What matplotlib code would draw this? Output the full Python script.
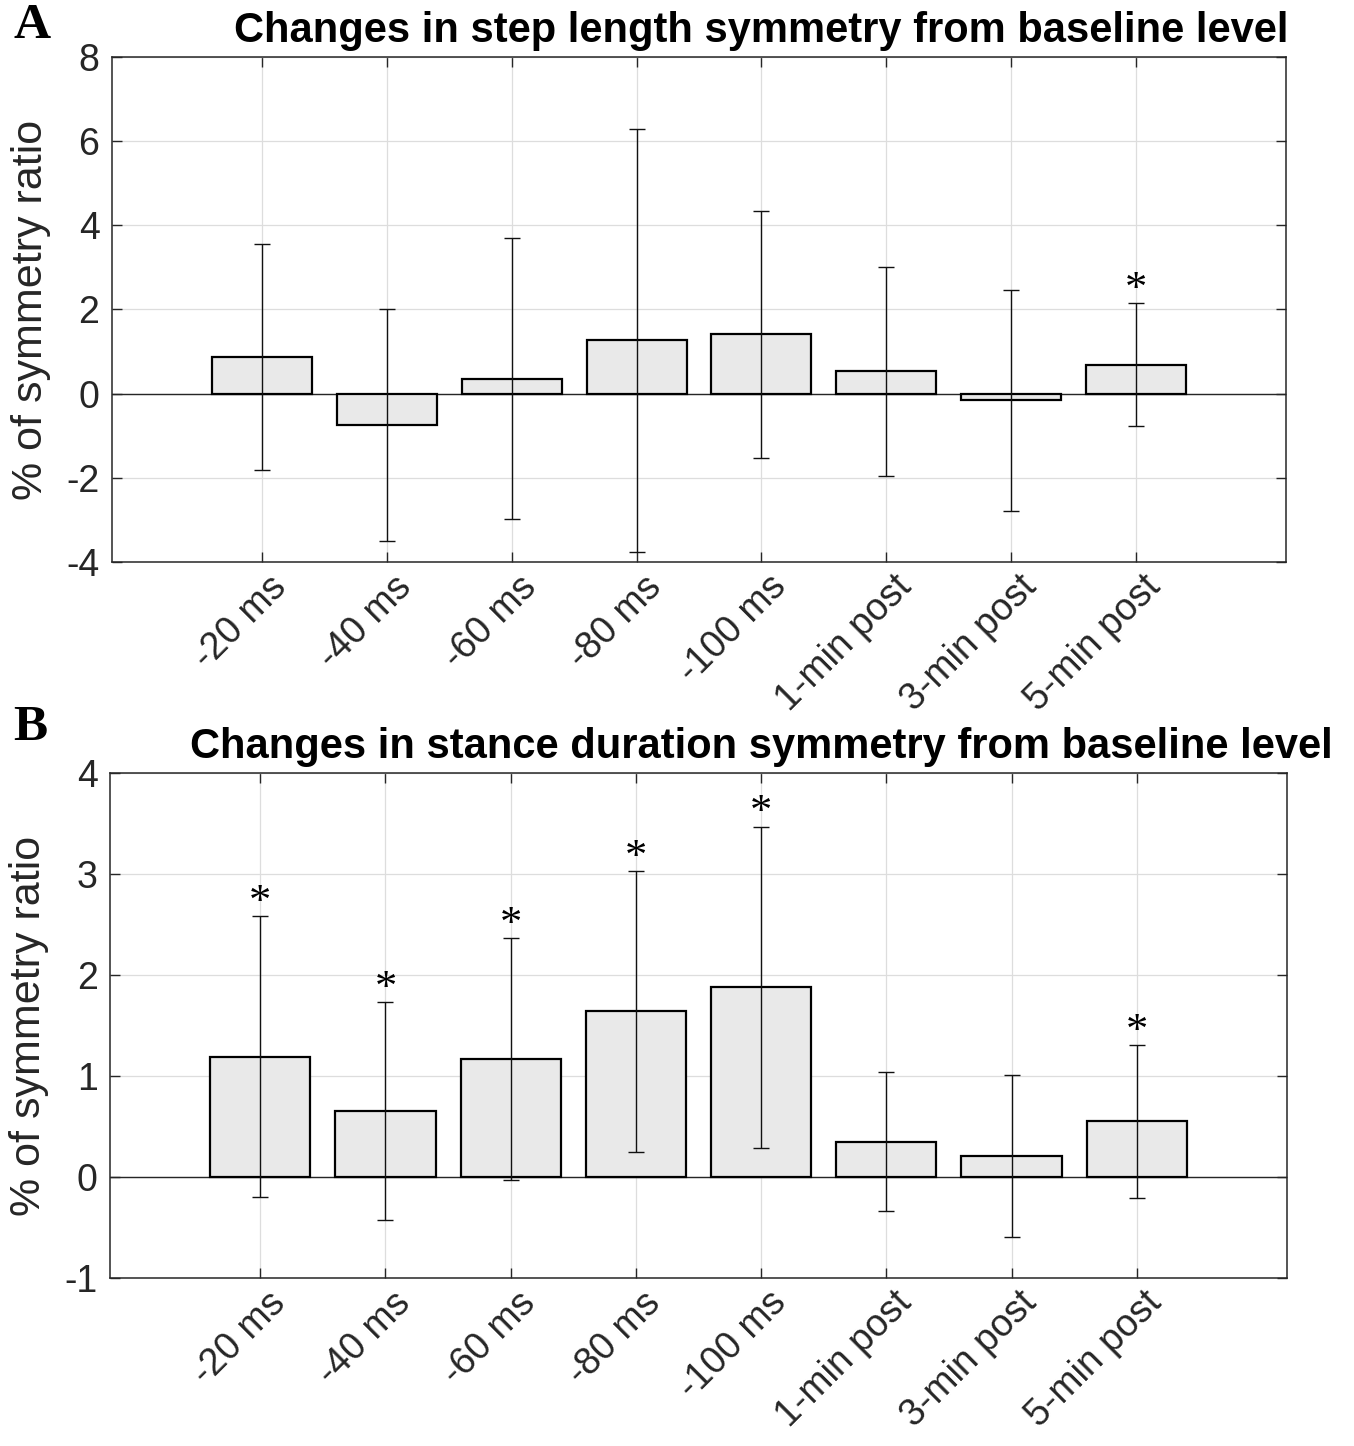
import matplotlib
matplotlib.use("Agg")
import matplotlib.pyplot as plt
import matplotlib.transforms as mtransforms
import numpy as np

# ---- data ----
categories = ['-20 ms', '-40 ms', '-60 ms', '-80 ms', '-100 ms',
              '1-min post', '3-min post', '5-min post']

step_mean = [0.87, -0.75, 0.36, 1.27, 1.41, 0.53, -0.16, 0.69]
step_sd = [2.69, 2.76, 3.34, 5.03, 2.93, 2.49, 2.62, 1.47]
step_sig = [False, False, False, False, False, False, False, True]

stance_mean = [1.19, 0.65, 1.17, 1.64, 1.88, 0.35, 0.21, 0.55]
stance_sd = [1.39, 1.08, 1.20, 1.39, 1.59, 0.69, 0.80, 0.76]
stance_sig = [True, True, True, True, True, False, False, True]

step_yticks = [-4, -2, 0, 2, 4, 6, 8]
stance_yticks = [-1, 0, 1, 2, 3, 4]

title_a = 'Changes in step length symmetry from baseline level'
title_b = 'Changes in stance duration symmetry from baseline level'
ylabel = '% of symmetry ratio'

# ---- figure ----
W, H = 1354, 1446
fig = plt.figure(figsize=(W / 100, H / 100), dpi=100)

SANS = ['Liberation Sans', 'DejaVu Sans']
SERIF = ['Liberation Serif', 'DejaVu Serif']
AXC = '#262626'


def px_rect(left, top, right, bottom):
    return [left / W, 1 - bottom / H, (right - left) / W, (bottom - top) / H]


def panel(rect, means, sds, sig, yticks, title, letter, letter_xy):
    ax = fig.add_axes(rect)
    x = np.arange(1, len(means) + 1)
    ax.bar(x, means, width=0.8, color='#e9e9e9', edgecolor='black',
           linewidth=1.6, zorder=3)
    ax.errorbar(x, means, yerr=sds, fmt='none', ecolor='#111111',
                elinewidth=1.0, capsize=6, capthick=1.0, zorder=4)
    ax.axhline(0, color=AXC, linewidth=1.0, zorder=2)
    for xi, m, s, g in zip(x, means, sds, sig):
        if g:
            ax.annotate('*', xy=(xi, m + s), xytext=(0, -5),
                        textcoords='offset points', ha='center', va='bottom',
                        fontsize=32, family=SERIF, color='black', zorder=5)
    ax.set_xlim(-0.2, 9.2)
    ax.set_ylim(yticks[0], yticks[-1])
    ax.set_yticks(yticks)
    ax.set_yticklabels([str(t) for t in yticks])
    ax.set_xticks(x)
    ax.set_xticklabels(categories)
    ax.grid(True, color='#dddddd', linewidth=0.9, zorder=0)
    ax.set_axisbelow(True)
    for sp in ax.spines.values():
        sp.set_color(AXC)
        sp.set_linewidth(1.1)
    ax.tick_params(direction='in', length=7, width=1.0, color=AXC,
                   top=True, right=True, labelsize=27, labelcolor=AXC)
    ax.tick_params(axis='y', pad=9)
    ax.tick_params(axis='x', pad=0)
    off = mtransforms.ScaledTranslation(14 / 72, -14 / 72, fig.dpi_scale_trans)
    for lab in ax.get_xticklabels():
        lab.set_rotation(45)
        lab.set_ha('right')
        lab.set_va('center')
        lab.set_rotation_mode('anchor')
        lab.set_family(SANS)
        lab.set_transform(lab.get_transform() + off)
    for lab in ax.get_yticklabels():
        lab.set_family(SANS)
    ax.set_ylabel(ylabel, fontsize=31, family=SANS, color=AXC)
    ax.yaxis.set_label_coords(-0.052, 0.5)
    ax.text((761 - rect[0] * W) / (rect[2] * W), 1.0 + 15 / (rect[3] * H),
            title, transform=ax.transAxes, ha='center', va='baseline',
            fontsize=30, fontweight='bold', family=SANS, color='black')
    fig.text(letter_xy[0] / W, 1 - letter_xy[1] / H, letter,
             fontsize=37, fontweight='bold', family=SERIF, color='black',
             ha='left', va='baseline')
    return ax


panel(px_rect(112, 57, 1286, 562), step_mean, step_sd, step_sig,
      step_yticks, title_a, 'A', (13, 38))
panel(px_rect(110, 773, 1287, 1278), stance_mean, stance_sd, stance_sig,
      stance_yticks, title_b, 'B', (13, 740))

fig.savefig('out.png', dpi=100, facecolor='white')
